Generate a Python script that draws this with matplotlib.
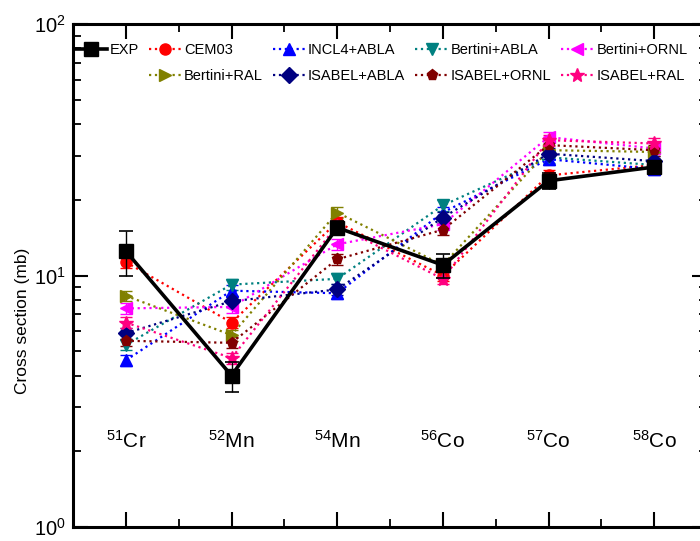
import matplotlib
matplotlib.use("Agg")
import matplotlib.pyplot as plt
import numpy as np
from matplotlib.lines import Line2D
from matplotlib.ticker import LogLocator, NullFormatter, FixedLocator

plt.rcParams['font.family'] = ['Liberation Sans', 'DejaVu Sans']
plt.rcParams['mathtext.fontset'] = 'custom'
plt.rcParams['mathtext.rm'] = 'Liberation Sans'
plt.rcParams['mathtext.it'] = 'Liberation Sans'

# residual nuclides and measured/calculated cross sections (mb)
nuclides = [r'$^{51}$Cr', r'$^{52}$Mn', r'$^{54}$Mn', r'$^{56}$Co', r'$^{57}$Co', r'$^{58}$Co']

exp_val = [12.5, 4.0, 15.5, 11.0, 23.8, 27.0]
exp_err = [2.5, 0.55, 1.0, 1.2, 1.8, 1.5]

cem03 = [11.3, 6.5, 16.3, 10.0, 25.0, 27.5]
incl4_abla = [4.6, 8.7, 8.5, 17.8, 29.0, 26.5]
bertini_abla = [5.3, 9.2, 9.7, 19.0, 29.5, 27.5]
bertini_ornl = [7.4, 7.5, 13.3, 16.0, 35.5, 32.0]
bertini_ral = [8.3, 5.8, 17.8, 11.0, 31.5, 31.0]
isabel_abla = [5.9, 7.9, 8.8, 17.0, 30.5, 28.5]
isabel_ornl = [5.5, 5.4, 11.6, 15.2, 33.0, 31.5]
isabel_ral = [6.5, 4.7, 15.8, 9.7, 34.5, 33.5]

# statistical uncertainty of the model calculations (relative)
model_rel_err = 0.05

models = [
    ('CEM03', cem03, '#ff0000', 'o'),
    ('INCL4+ABLA', incl4_abla, '#0000ff', '^'),
    ('Bertini+ABLA', bertini_abla, '#008080', 'v'),
    ('Bertini+ORNL', bertini_ornl, '#ff00ff', '<'),
    ('Bertini+RAL', bertini_ral, '#808000', '>'),
    ('ISABEL+ABLA', isabel_abla, '#000080', 'D'),
    ('ISABEL+ORNL', isabel_ornl, '#800000', 'p'),
    ('ISABEL+RAL', isabel_ral, '#ff0080', '*'),
]

fig = plt.figure(figsize=(7.0, 5.41), dpi=100)
ax = fig.add_axes([73 / 700, 14 / 541, 634 / 700, 503 / 541])

x = np.arange(len(nuclides))
handles = {}
for name, vals, col, mk in models:
    vals = np.array(vals)
    ms = 10 if mk == '*' else 8
    ax.errorbar(x, vals, yerr=vals * model_rel_err, color=col, ls=':', lw=1.6,
                marker=mk, ms=ms, mec=col, mfc=col,
                capsize=4, elinewidth=1.0, capthick=1.0, zorder=2)
    handles[name] = Line2D([], [], color=col, ls=':', lw=1.6, marker=mk, ms=ms)

ax.errorbar(x, exp_val, yerr=exp_err, color='black', lw=2.6, marker='s', ms=10,
            capsize=5, elinewidth=1.0, capthick=1.2, zorder=5)
handles['EXP'] = Line2D([], [], color='black', lw=2.6, marker='s', ms=10)

ax.set_yscale('log')
ax.set_ylim(1, 100)
ax.set_xlim(-0.5, len(nuclides) - 0.5)

# nuclide names written inside the frame
for xi, lab in zip(x, nuclides):
    ax.text(xi, 2.2, lab, ha='center', va='center', fontsize=15)

ax.set_xticks(x)
ax.set_xticklabels([])
ax.xaxis.set_minor_locator(FixedLocator(x[:-1] + 0.5))
ax.yaxis.set_major_locator(LogLocator(base=10, numticks=5))
ax.yaxis.set_minor_locator(LogLocator(base=10, subs=np.arange(2, 10), numticks=20))
ax.yaxis.set_minor_formatter(NullFormatter())
ax.tick_params(which='both', direction='in', top=True, right=True, labelsize=14.5)
ax.tick_params(which='major', length=11, width=1.5, pad=5)
ax.tick_params(which='minor', length=6, width=1.3)
for sp in ax.spines.values():
    sp.set_linewidth(2.2)

ax.set_ylabel('Cross section (mb)', fontsize=12.5)
ax.yaxis.set_label_coords(-0.068, 0.41)

blank = Line2D([], [], color='none')
order = [('EXP', handles['EXP']), ('', blank),
         ('CEM03', handles['CEM03']), ('Bertini+RAL', handles['Bertini+RAL']),
         ('INCL4+ABLA', handles['INCL4+ABLA']), ('ISABEL+ABLA', handles['ISABEL+ABLA']),
         ('Bertini+ABLA', handles['Bertini+ABLA']), ('ISABEL+ORNL', handles['ISABEL+ORNL']),
         ('Bertini+ORNL', handles['Bertini+ORNL']), ('ISABEL+RAL', handles['ISABEL+RAL'])]
ax.legend([h for _, h in order], [l for l, _ in order], loc='upper left',
          bbox_to_anchor=(0.0, 0.965), ncol=5, frameon=False, fontsize=10.5,
          handlelength=2.2, handletextpad=0.2, columnspacing=0.7,
          labelspacing=0.8, borderaxespad=0, borderpad=0.1)

fig.savefig('out.png', dpi=100)
